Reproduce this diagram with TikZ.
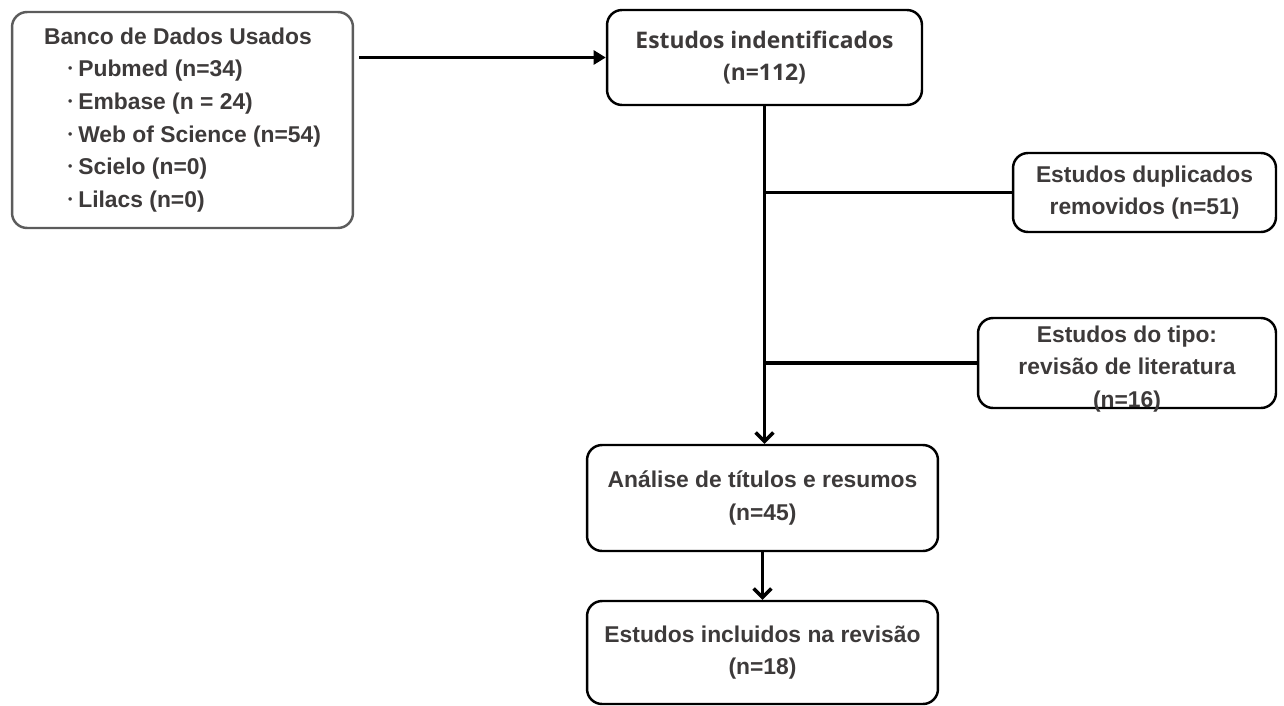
\documentclass[tikz,border=0pt]{standalone}
\usepackage{fontspec}
\setmainfont{Liberation Sans}
\newfontfamily\opensans{Open Sans}
\usetikzlibrary{arrows.meta}
\definecolor{txt}{HTML}{3D3A3A}
\definecolor{graybox}{HTML}{5C5C5C}
\newcommand{\dbitem}{\hspace*{0.48cm}\raisebox{0.18em}{\scriptsize•}\hspace{0.12cm}}
\begin{document}
\begin{tikzpicture}[x=0.02cm, y=-0.02cm,
  font=\fontsize{13}{18.6}\selectfont\bfseries,
  bx/.style={draw, line width=1.4pt, rounded corners=0.3cm, text=txt, align=center, inner sep=0pt},
  link/.style={line width=2pt},
  arr/.style={link, -{Straight Barb[length=5pt, width=10pt]}}]
  \useasboundingbox (0,0) rectangle (1284,706);
  % caixas (centro em px da imagem)
  \node[bx, draw=graybox, minimum width=6.82cm, minimum height=4.32cm, align=left] (db) at (182.5,120)
    {Banco de Dados Usados\\
     \dbitem Pubmed (n=34)\\
     \dbitem Embase (n = 24)\\
     \dbitem Web of Science (n=54)\\
     \dbitem Scielo (n=0)\\
     \dbitem Lilacs (n=0)};
  \node[bx, minimum width=6.3cm, minimum height=1.9cm, font=\fontsize{13}{18}\selectfont\opensans\bfseries] (ident) at (764.5,57.5)
    {Estudos indentificados\\(n=112)};
  \node[bx, minimum width=5.26cm, minimum height=1.58cm] (dup) at (1144.5,192.5)
    {Estudos duplicados\\removidos (n=51)};
  % texto desce um pouco e toca a borda de baixo (como no original)
  \node[bx, minimum width=5.96cm, minimum height=1.8cm,
    label={[text=txt, align=center, yshift=-0.12cm]center:Estudos do tipo:\\revisão de literatura\\(n=16)}] (tipo) at (1127,363) {};
  \node[bx, minimum width=7.02cm, minimum height=2.12cm] (anal) at (762.5,498)
    {Análise de títulos e resumos\\(n=45)};
  \node[bx, minimum width=7.02cm, minimum height=2.06cm] (incl) at (762.5,652.5)
    {Estudos incluidos na revisão\\(n=18)};
  % ligações
  \draw[link, -{Triangle[length=7pt, width=8pt]}] ([xshift=3pt]db.east |- ident.west) -- (ident.west);
  \draw[arr] (ident.south) -- (ident.south |- anal.north);
  \draw[link] (ident.south |- dup.west) -- (dup.west);
  \draw[link] (ident.south |- tipo.west) -- (tipo.west);
  \draw[arr] (anal.south) -- (incl.north);
\end{tikzpicture}
\end{document}
